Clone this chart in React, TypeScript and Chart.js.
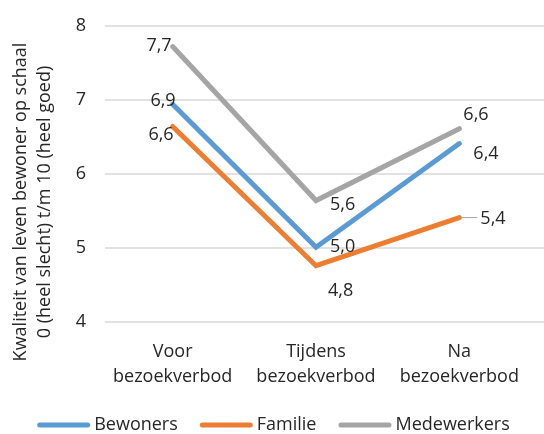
import React, { useEffect, useRef } from "react";
import { Chart, registerables } from "chart.js";

Chart.register(...registerables);

const categories: string[][] = [
  ["Voor", "bezoekverbod"],
  ["Tijdens", "bezoekverbod"],
  ["Na", "bezoekverbod"],
];
const bewoners = [6.94, 5.01, 6.41];
const familie = [6.64, 4.76, 5.41];
const medewerkers = [7.72, 5.64, 6.61];
const yTitle = ["Kwaliteit van leven bewoner op schaal", "0 (heel slecht) t/m 10 (heel goed)"];

const FONT = "'Open Sans'";
const TEXT = "#262626";
const FS = 18;

// label placement per dataset/point: [dx, dy, align, leader]
const labelPos: [number, number, CanvasTextAlign, boolean][][] = [
  [[3, -3, "right", false], [14, 0, "left", false], [14, 10, "left", false]],
  [[1, 8, "right", false], [12, 25, "left", false], [21, 1, "left", true]],
  [[-1, -1, "right", false], [14, 4, "left", false], [4, -14, "left", false]],
];

const gridPlugin = {
  id: "extGrid",
  beforeDatasetsDraw(chart: any) {
    const ctx = chart.ctx;
    const y = chart.scales.y;
    ctx.save();
    ctx.strokeStyle = "#d9d9d9";
    ctx.lineWidth = 1.5;
    y.ticks.forEach((t: any) => {
      const py = Math.round(y.getPixelForValue(t.value));
      ctx.beginPath();
      ctx.moveTo(105, py);
      ctx.lineTo(chart.width, py);
      ctx.stroke();
    });
    ctx.restore();
  },
};

const titlePlugin = {
  id: "yTitle",
  afterDraw(chart: any) {
    const ctx = chart.ctx;
    ctx.save();
    ctx.font = `${FS}px ${FONT}`;
    ctx.fillStyle = TEXT;
    ctx.textAlign = "center";
    ctx.textBaseline = "middle";
    ctx.translate(0, 202);
    ctx.rotate(-Math.PI / 2);
    yTitle.forEach((line, i) => ctx.fillText(line, 0, 21 + i * 24));
    ctx.restore();
  },
};

const legendPlugin = {
  id: "lineLegend",
  afterDraw(chart: any) {
    const ctx = chart.ctx;
    const sw = 53, gap = 4, between = 22, y = 425;
    ctx.save();
    ctx.font = `${FS}px ${FONT}`;
    const items = chart.data.datasets.map((d: any) => ({
      label: d.label as string,
      color: d.borderColor as string,
      w: ctx.measureText(d.label).width,
    }));
    const total = items.reduce((a: number, it: any) => a + sw + gap + it.w, 0) + between * (items.length - 1);
    let x = 273.5 - total / 2;
    items.forEach((it: any) => {
      ctx.strokeStyle = it.color;
      ctx.lineWidth = 5;
      ctx.lineCap = "round";
      ctx.beginPath();
      ctx.moveTo(x + 2.5, y);
      ctx.lineTo(x + sw - 2.5, y);
      ctx.stroke();
      ctx.fillStyle = TEXT;
      ctx.textAlign = "left";
      ctx.textBaseline = "middle";
      ctx.fillText(it.label, x + sw + gap, y);
      x += sw + gap + it.w + between;
    });
    ctx.restore();
  },
};

const labelPlugin = {
  id: "valueLabels",
  afterDatasetsDraw(chart: any) {
    const ctx = chart.ctx;
    ctx.save();
    ctx.font = `${FS}px ${FONT}`;
    ctx.fillStyle = TEXT;
    ctx.textBaseline = "middle";
    chart.data.datasets.forEach((ds: any, di: number) => {
      const meta = chart.getDatasetMeta(di);
      meta.data.forEach((pt: any, i: number) => {
        const [dx, dy, align, leader] = labelPos[di][i];
        const v = ds.data[i] as number;
        const txt = v.toFixed(1).replace(".", ",");
        if (leader) {
          ctx.strokeStyle = "#a5a5a5";
          ctx.lineWidth = 1;
          ctx.beginPath();
          ctx.moveTo(pt.x + 2, pt.y);
          ctx.lineTo(pt.x + dx - 3, pt.y);
          ctx.stroke();
        }
        ctx.textAlign = align;
        ctx.fillText(txt, pt.x + dx, pt.y + dy);
      });
    });
    ctx.restore();
  },
};

export default function App() {
  const ref = useRef<HTMLCanvasElement>(null);
  useEffect(() => {
    if (!ref.current) return;
    const mk = (label: string, data: number[], color: string) => ({
      label,
      data,
      borderColor: color,
      backgroundColor: color,
      borderWidth: 5,
      pointRadius: 0,
      pointHoverRadius: 0,
      borderCapStyle: "round" as const,
      borderJoinStyle: "miter" as const,
      tension: 0,
    });
    const chart = new Chart(ref.current, {
      type: "line",
      data: {
        labels: categories,
        datasets: [
          mk("Bewoners", bewoners, "#5b9bd5"),
          mk("Familie", familie, "#ed7d31"),
          mk("Medewerkers", medewerkers, "#a5a5a5"),
        ],
      },
      options: {
        animation: false,
        responsive: false,
        layout: { padding: { top: 22, right: 13, left: 0, bottom: 0 } },
        plugins: {
          legend: { display: false },
          tooltip: { enabled: false },
        },
        scales: {
          x: {
            offset: true,
            afterFit: (s: any) => { s.height = 112; },
            grid: { display: false },
            border: { display: false },
            ticks: { font: { family: FONT, size: FS, lineHeight: 1.4 }, color: TEXT, maxRotation: 0, padding: 9 },
          },
          y: {
            min: 4,
            max: 8,
            afterFit: (s: any) => { s.width = 101; },
            ticks: { stepSize: 1, font: { family: FONT, size: FS }, color: TEXT, padding: 15 },
            grid: { display: false, drawTicks: false },
            border: { display: false },
          },
        },
      },
      plugins: [gridPlugin, labelPlugin, titlePlugin, legendPlugin],
    });
    return () => chart.destroy();
  }, []);
  return (
    <div style={{ position: "fixed", left: 0, top: 0, width: 544, height: 434, background: "#fff" }}>
      <canvas ref={ref} width={544} height={434} style={{ width: 544, height: 434 }} />
    </div>
  );
}
